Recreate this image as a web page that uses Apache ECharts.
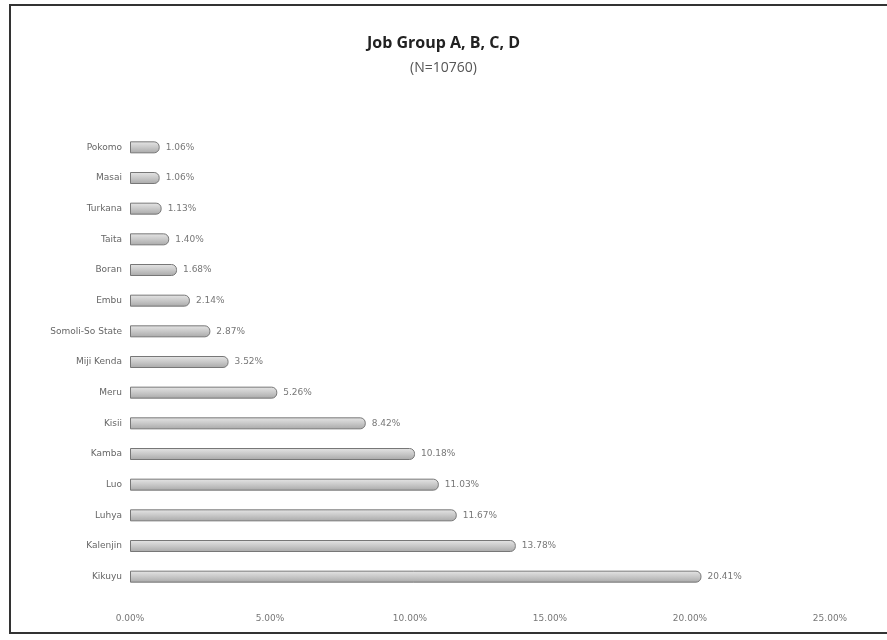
<!DOCTYPE html>
<html><head><meta charset="utf-8">
<script src="https://cdn.jsdelivr.net/npm/echarts@6/dist/echarts.min.js"></script>
<style>html,body{margin:0;padding:0;background:#fff}#c{width:887px;height:640px}</style>
</head><body><div id="c"></div>
<script>
var categories = ["Kikuyu","Kalenjin","Luhya","Luo","Kamba","Kisii","Meru","Miji Kenda","Somoli-So State","Embu","Boran","Taita","Turkana","Masai","Pokomo"];
var values = [20.41,13.78,11.67,11.03,10.18,8.42,5.26,3.52,2.87,2.14,1.68,1.40,1.13,1.06,1.06];
var xTicks = [0,5,10,15,20,25];

var chart = echarts.init(document.getElementById('c'));
chart.setOption({
  backgroundColor:'#fff',
  animation:false,
  graphic:[{type:'rect',shape:{x:10,y:5,width:890,height:628},style:{fill:'none',stroke:'#333',lineWidth:2}}],
  title:{text:'Job Group A, B, C, D',subtext:'(N=10760)',left:'center',top:30,
    textStyle:{fontFamily:'Open Sans',fontSize:16,fontWeight:'bold',color:'#222'},
    subtextStyle:{fontFamily:'Open Sans',fontSize:14,color:'#555'},itemGap:10},
  grid:{left:130,right:57,top:132,bottom:48,containLabel:false},
  xAxis:{type:'value',min:0,max:25,interval:5,
    axisLine:{show:false},axisTick:{show:false},splitLine:{show:false},
    axisLabel:{color:'#777',fontSize:9,fontFamily:'DejaVu Sans',margin:22,
      formatter:function(v){return v.toFixed(2)+'%';}}},
  yAxis:{type:'category',data:categories,
    axisLine:{show:false},axisTick:{show:false},
    axisLabel:{color:'#666',fontSize:9,fontFamily:'DejaVu Sans',margin:8}},
  series:[{type:'bar',data:values,barWidth:12,
    itemStyle:{borderRadius:[0,5,5,0],borderColor:'#777',borderWidth:1,
      color:new echarts.graphic.LinearGradient(0,0,0,1,[{offset:0,color:'#e6e6e6'},{offset:0.5,color:'#c8c8c8'},{offset:1,color:'#a8a8a8'}])},
    label:{show:true,position:'right',distance:6,color:'#777',fontSize:9,fontFamily:'DejaVu Sans',
      formatter:function(p){return p.value.toFixed(2)+'%';}}}]
});
</script></body></html>
